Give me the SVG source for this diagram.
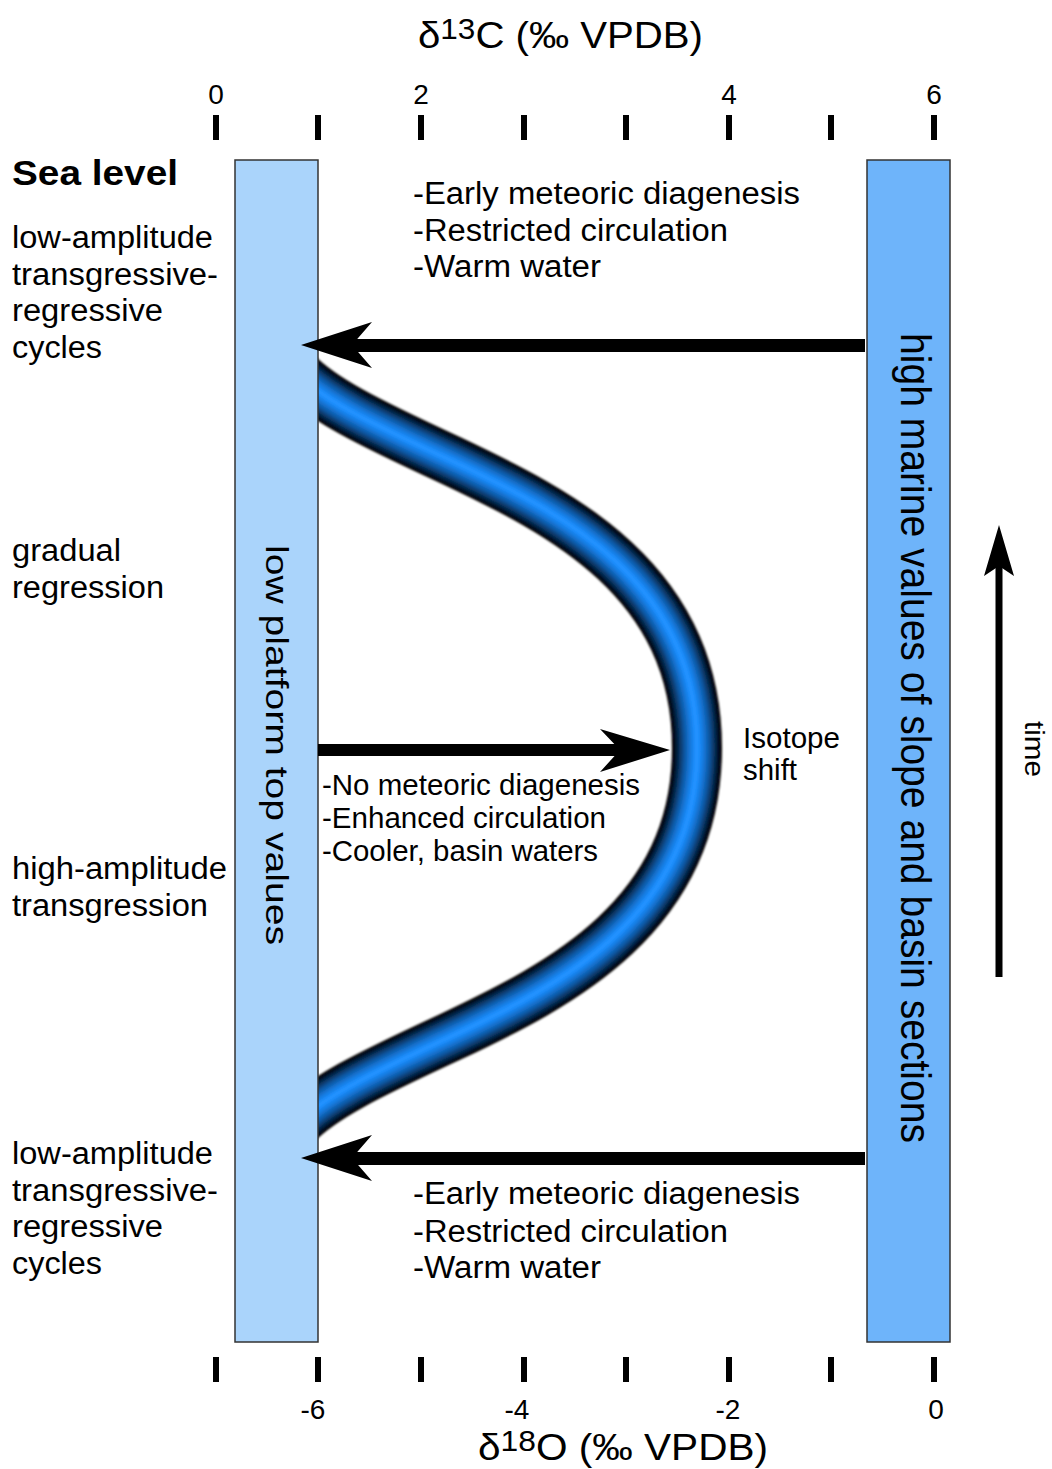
<svg xmlns="http://www.w3.org/2000/svg" width="1052" height="1469" viewBox="0 0 1052 1469">
<style>
text{font-family:"Liberation Sans",Arial,sans-serif;fill:#000}
.lbl{font-size:31px}
.mid{font-size:29px}
.tick{font-size:28px;text-anchor:middle}
.ax{font-size:37px}
.bar{stroke:#333;stroke-width:1.5}
.tk{stroke:#000;stroke-width:6}
.tube{fill:none;stroke-linecap:butt}
</style>
<defs>
<clipPath id="tc"><rect x="318" y="0" width="734" height="1469"/></clipPath>
<filter id="soft" x="-10%" y="-10%" width="120%" height="120%"><feGaussianBlur stdDeviation="1.3"/></filter>
<path id="cl" d="M292,368 C318,398 370,423 450,460 C560,512 697,580 697,748 C697,916 560,985 450,1037 C370,1074 318,1099 292,1129"/>
</defs>
<g id="axis-top">
<text class="ax" x="418" y="48" textLength="285" lengthAdjust="spacingAndGlyphs">δ<tspan font-size="29" dy="-9">13</tspan><tspan dy="9">C (‰ VPDB)</tspan></text>
<text class="tick" x="216" y="104">0</text>
<text class="tick" x="421" y="104">2</text>
<text class="tick" x="729" y="104">4</text>
<text class="tick" x="934" y="104">6</text>
<path class="tk" d="M216,115V140M318,115V140M421,115V140M524,115V140M626,115V140M729,115V140M831,115V140M934,115V140"/>
</g>
<g id="axis-bottom">
<path class="tk" d="M216,1357V1382M318,1357V1382M421,1357V1382M524,1357V1382M626,1357V1382M729,1357V1382M831,1357V1382M934,1357V1382"/>
<text class="tick" x="313" y="1419">-6</text>
<text class="tick" x="517" y="1419">-4</text>
<text class="tick" x="728" y="1419">-2</text>
<text class="tick" x="936" y="1419">0</text>
<text class="ax" x="478" y="1460" textLength="290" lengthAdjust="spacingAndGlyphs">δ<tspan font-size="29" dy="-9">18</tspan><tspan dy="9">O (‰ VPDB)</tspan></text>
</g>
<g id="tube" clip-path="url(#tc)">
<g filter="url(#soft)">
<use href="#cl" class="tube" stroke="#000" stroke-width="50"/>
<use href="#cl" class="tube" stroke="#021122" stroke-width="46"/>
<use href="#cl" class="tube" stroke="#052444" stroke-width="41"/>
<use href="#cl" class="tube" stroke="#083766" stroke-width="36"/>
<use href="#cl" class="tube" stroke="#0b4a88" stroke-width="31"/>
<use href="#cl" class="tube" stroke="#0e5caa" stroke-width="26"/>
<use href="#cl" class="tube" stroke="#126ec9" stroke-width="20"/>
<use href="#cl" class="tube" stroke="#167ee4" stroke-width="14"/>
<use href="#cl" class="tube" stroke="#1b8af8" stroke-width="8"/>
<use href="#cl" class="tube" stroke="#2092ff" stroke-width="4"/>
</g>
</g>
<g id="platform-bar">
<rect class="bar" x="235" y="160" width="83" height="1182" fill="#aad4fb"/>
<text transform="translate(266,745) rotate(90)" font-size="31" text-anchor="middle" textLength="400" lengthAdjust="spacingAndGlyphs">low platform top values</text>
</g>
<g id="marine-bar">
<rect class="bar" x="867" y="160" width="83" height="1182" fill="#6eb4fa"/>
<text transform="translate(901,738) rotate(90)" font-size="42" text-anchor="middle" textLength="810" lengthAdjust="spacingAndGlyphs">high marine values of slope and basin sections</text>
</g>
<g id="connectors">
<rect x="345" y="339" width="520" height="13" fill="#000"/>
<path d="M301,345 L372,322 L352,345 L372,368 Z" fill="#000"/>
<rect x="345" y="1152" width="520" height="13" fill="#000"/>
<path d="M301,1158 L372,1135 L352,1158 L372,1181 Z" fill="#000"/>
<rect x="318" y="744" width="310" height="12" fill="#000"/>
<path d="M670,750 L600,729 L620,750 L600,772 Z" fill="#000"/>
<rect x="995.5" y="560" width="7" height="417" fill="#000"/>
<path d="M999,525 L984,576 L999,566 L1014,576 Z" fill="#000"/>
</g>
<g id="sea-level-labels">
<text x="12" y="185" font-size="35" font-weight="bold" textLength="166" lengthAdjust="spacingAndGlyphs">Sea level</text>
<text class="lbl" x="12" y="248" textLength="201" lengthAdjust="spacingAndGlyphs">low-amplitude</text>
<text class="lbl" x="12" y="285" textLength="206" lengthAdjust="spacingAndGlyphs">transgressive-</text>
<text class="lbl" x="12" y="321" textLength="151" lengthAdjust="spacingAndGlyphs">regressive</text>
<text class="lbl" x="12" y="358" textLength="90" lengthAdjust="spacingAndGlyphs">cycles</text>
<text class="lbl" x="12" y="561" textLength="109" lengthAdjust="spacingAndGlyphs">gradual</text>
<text class="lbl" x="12" y="598" textLength="152" lengthAdjust="spacingAndGlyphs">regression</text>
<text class="lbl" x="12" y="879" textLength="215" lengthAdjust="spacingAndGlyphs">high-amplitude</text>
<text class="lbl" x="12" y="916" textLength="196" lengthAdjust="spacingAndGlyphs">transgression</text>
<text class="lbl" x="12" y="1164" textLength="201" lengthAdjust="spacingAndGlyphs">low-amplitude</text>
<text class="lbl" x="12" y="1201" textLength="206" lengthAdjust="spacingAndGlyphs">transgressive-</text>
<text class="lbl" x="12" y="1237" textLength="151" lengthAdjust="spacingAndGlyphs">regressive</text>
<text class="lbl" x="12" y="1274" textLength="90" lengthAdjust="spacingAndGlyphs">cycles</text>
</g>
<g id="top-conditions">
<text class="lbl" x="413" y="204" textLength="387" lengthAdjust="spacingAndGlyphs">-Early meteoric diagenesis</text>
<text class="lbl" x="413" y="241" textLength="315" lengthAdjust="spacingAndGlyphs">-Restricted circulation</text>
<text class="lbl" x="413" y="277" textLength="188" lengthAdjust="spacingAndGlyphs">-Warm water</text>
</g>
<g id="bottom-conditions">
<text class="lbl" x="413" y="1204" textLength="387" lengthAdjust="spacingAndGlyphs">-Early meteoric diagenesis</text>
<text class="lbl" x="413" y="1242" textLength="315" lengthAdjust="spacingAndGlyphs">-Restricted circulation</text>
<text class="lbl" x="413" y="1278" textLength="188" lengthAdjust="spacingAndGlyphs">-Warm water</text>
</g>
<g id="middle-conditions">
<text class="mid" x="322" y="795" textLength="318" lengthAdjust="spacingAndGlyphs">-No meteoric diagenesis</text>
<text class="mid" x="322" y="828" textLength="284" lengthAdjust="spacingAndGlyphs">-Enhanced circulation</text>
<text class="mid" x="322" y="861" textLength="276" lengthAdjust="spacingAndGlyphs">-Cooler, basin waters</text>
</g>
<g id="isotope-shift">
<text class="mid" x="743" y="748" textLength="97" lengthAdjust="spacingAndGlyphs">Isotope</text>
<text class="mid" x="743" y="780" textLength="54" lengthAdjust="spacingAndGlyphs">shift</text>
</g>
<g id="time">
<text transform="translate(1025,749) rotate(90)" font-size="27" text-anchor="middle" textLength="56" lengthAdjust="spacingAndGlyphs">time</text>
</g>
</svg>
